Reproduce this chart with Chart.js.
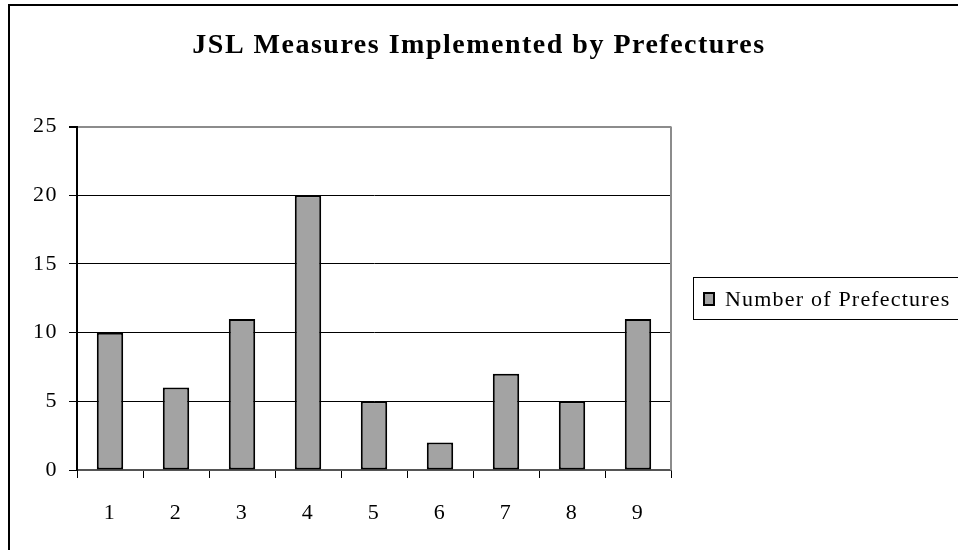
<!DOCTYPE html>
<html>
<head>
<meta charset="utf-8">
<script src="https://cdn.jsdelivr.net/npm/chart.js@4/dist/chart.umd.min.js"></script>
<style>
  html, body { margin: 0; padding: 0; background: #fff; }
  #wrap { width: 958px; height: 550px; }
</style>
</head>
<body>
<div id="wrap"><canvas id="c" width="958" height="550"></canvas></div>
<script>
const categories = ['1', '2', '3', '4', '5', '6', '7', '8', '9'];
const prefectureCounts = [10, 6, 11, 20, 5, 2, 7, 5, 11];
const yTicks = [0, 5, 10, 15, 20, 25];
const seriesLabel = 'Number of Prefectures';
const chartTitle = 'JSL Measures Implemented by Prefectures';

const SERIF = '"Liberation Serif", "DejaVu Serif", serif';
const BAR_FILL = '#a3a3a3';

// Frame lines, plot-area border and the legend box
const decorations = {
  id: 'decorations',
  beforeDraw(chart) {
    const ctx = chart.ctx;
    ctx.fillStyle = '#fff';
    ctx.fillRect(0, 0, chart.width, chart.height);
    // slightly open letter spacing for all text, like an old-style serif
    ctx.letterSpacing = '1.5px';
  },
  afterDatasetsDraw(chart) {
    const ctx = chart.ctx;
    const a = chart.chartArea;
    ctx.save();
    // gray right edge of the plot area
    ctx.strokeStyle = '#8c8c8c';
    ctx.lineWidth = 2;
    ctx.beginPath();
    ctx.moveTo(a.right, a.top);
    ctx.lineTo(a.right, a.bottom);
    ctx.stroke();
    ctx.restore();
  },
  afterDraw(chart) {
    const ctx = chart.ctx;
    ctx.save();
    // outer frame
    ctx.strokeStyle = '#000';
    ctx.lineWidth = 2;
    ctx.beginPath();
    ctx.moveTo(9, chart.height + 5);
    ctx.lineTo(9, 5);
    ctx.lineTo(chart.width + 5, 5);
    ctx.stroke();

    // legend
    const ds = chart.data.datasets[0];
    const lx = 693.5, ly = 277.5, lw = 270, lh = 42;
    ctx.lineWidth = 1;
    ctx.strokeStyle = '#000';
    ctx.strokeRect(lx, ly, lw, lh);
    ctx.fillStyle = ds.backgroundColor;
    ctx.fillRect(704, 293, 10, 12);
    ctx.lineWidth = 2;
    ctx.strokeRect(704, 293, 10, 12);
    ctx.fillStyle = '#000';
    ctx.font = '22px ' + SERIF;
    ctx.letterSpacing = '1.2px';
    ctx.textBaseline = 'middle';
    ctx.textAlign = 'left';
    ctx.fillText(ds.label, 725, 300);
    ctx.restore();
    ctx.letterSpacing = '0px';
  }
};

new Chart(document.getElementById('c'), {
  type: 'bar',
  data: {
    labels: categories,
    datasets: [{
      label: seriesLabel,
      data: prefectureCounts,
      backgroundColor: BAR_FILL,
      borderColor: '#000',
      borderWidth: 2,
      borderSkipped: false,
      categoryPercentage: 1.0,
      barPercentage: 0.4
    }]
  },
  options: {
    responsive: false,
    animation: false,
    devicePixelRatio: 1,
    layout: { padding: { left: 0, right: 0, top: 0, bottom: 0 } },
    plugins: {
      legend: { display: false },
      tooltip: { enabled: false },
      title: {
        display: true,
        text: chartTitle,
        color: '#000',
        font: { family: SERIF, size: 28, weight: 'bold' },
        padding: { top: 29, bottom: 64 }
      }
    },
    scales: {
      x: {
        offset: true,
        grid: {
          offset: true,
          drawOnChartArea: false,
          drawTicks: true,
          tickLength: 8,
          color: '#000',
          lineWidth: 1
        },
        border: { display: true, color: '#555', width: 2 },
        ticks: {
          color: '#000',
          font: { family: SERIF, size: 22 },
          padding: 22,
          maxRotation: 0
        },
        afterFit(scale) { scale.height = 80; }
      },
      y: {
        min: 0,
        max: 25,
        afterBuildTicks(scale) { scale.ticks = yTicks.map(v => ({ value: v })); },
        grid: {
          color: ctx => (ctx.tick && ctx.tick.value === 25 ? '#8c8c8c' : '#000'),
          lineWidth: ctx => (ctx.tick && ctx.tick.value === 25 ? 2 : 1),
          drawTicks: true,
          tickLength: 8,
          tickColor: '#000'
        },
        border: { display: true, color: '#000', width: 2 },
        ticks: {
          color: '#000',
          font: { family: SERIF, size: 22 },
          padding: 11
        },
        afterFit(scale) { scale.width = 77; }
      },
      spacer: {
        position: 'right',
        display: true,
        grid: { display: false, drawTicks: false },
        border: { display: false },
        ticks: { display: false },
        afterFit(scale) { scale.width = 287; }
      }
    }
  },
  plugins: [decorations]
});
</script>
</body>
</html>
